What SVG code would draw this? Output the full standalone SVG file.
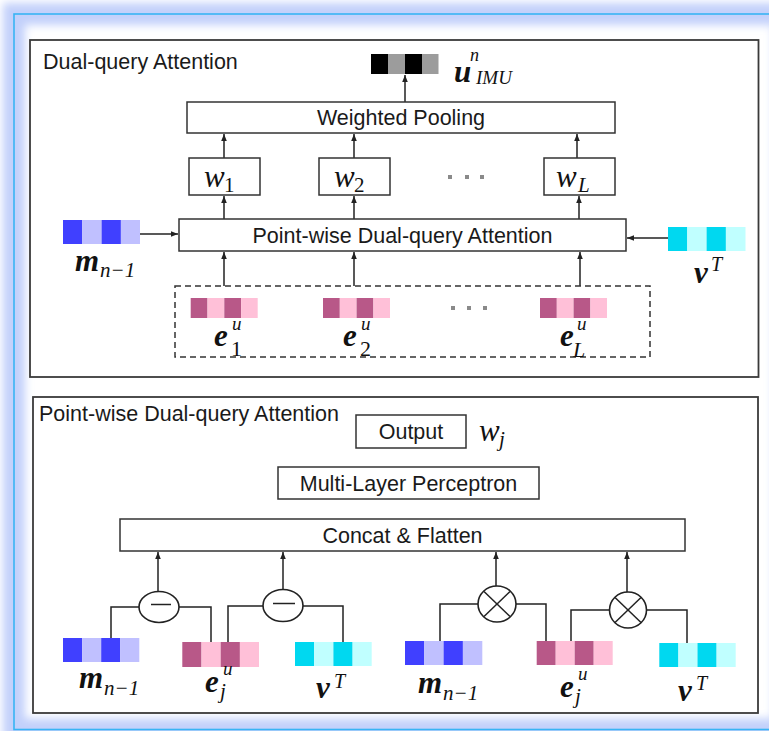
<svg xmlns="http://www.w3.org/2000/svg" width="769" height="731" viewBox="0 0 769 731">
<style>
.box{fill:#fff;stroke:#333;stroke-width:1.5}
.panel{fill:#fff;stroke:#3a3a3a;stroke-width:1.8}
.t{font-family:"Liberation Sans",Arial,sans-serif;font-size:21.5px;fill:#1a1a1a}
.tc{text-anchor:middle}
.mb{font-family:"Liberation Serif","Times New Roman",serif;font-weight:bold;font-style:italic;fill:#111}
.mi{font-family:"Liberation Serif","Times New Roman",serif;font-style:italic;fill:#111}
.mr{font-family:"Liberation Serif","Times New Roman",serif;fill:#111}
.cn{fill:none;stroke:#222;stroke-width:1.5}
.ar{fill:none;stroke:#222;stroke-width:1.5;marker-end:url(#ah)}
.op{fill:#fff;stroke:#222;stroke-width:1.6}
.dot{fill:#8a8a8a}
.mB{fill:#4040ff}.mL{fill:#c0c0ff}
.eD{fill:#b85888}.eL{fill:#ffc0d8}
.vD{fill:#00d8f0}.vL{fill:#c0ffff}
</style>
<defs>
<filter id="glow" x="-10%" y="-10%" width="120%" height="120%"><feGaussianBlur stdDeviation="4"/></filter>
<marker id="ah" viewBox="0 0 10 10" refX="10" refY="5" markerWidth="7" markerHeight="7" markerUnits="userSpaceOnUse" orient="auto"><path d="M0,1 L10,5 L0,9 z" fill="#222"/></marker>
</defs>
<rect x="0" y="0" width="769" height="731" fill="#fff"/>
<g id="frame">
<rect x="14" y="14" width="770" height="715.5" fill="none" stroke="#c2d0fb" stroke-width="22" filter="url(#glow)"/>
<rect x="14" y="14" width="770" height="715.5" fill="none" stroke="#38b4f4" stroke-width="1.6"/>
</g>

<g id="panel-top">
<rect class="panel" x="30" y="40" width="728.5" height="337"/>
<text class="t" x="43" y="69">Dual-query Attention</text>
</g>
<g id="panel-bottom">
<rect class="panel" x="33" y="397" width="725" height="316"/>
<text class="t" x="39" y="421">Point-wise Dual-query Attention</text>
</g>

<g id="connectors">
<line class="ar" x1="405" y1="102" x2="405" y2="75"/>
<line class="ar" x1="224" y1="158" x2="224" y2="134"/>
<line class="ar" x1="354" y1="158" x2="354" y2="134"/>
<line class="ar" x1="577" y1="158" x2="577" y2="134"/>
<line class="ar" x1="224" y1="219" x2="224" y2="196"/>
<line class="ar" x1="354" y1="219" x2="354" y2="196"/>
<line class="ar" x1="579" y1="219" x2="579" y2="196"/>
<line class="ar" x1="224" y1="286" x2="224" y2="252"/>
<line class="ar" x1="354" y1="286" x2="354" y2="252"/>
<line class="ar" x1="580" y1="286" x2="580" y2="252"/>
<line class="ar" x1="140" y1="234" x2="178" y2="234"/>
<line class="ar" x1="668" y1="238" x2="627" y2="238"/>
<line class="ar" x1="158" y1="591" x2="158" y2="552"/>
<line class="ar" x1="283" y1="589" x2="283" y2="552"/>
<line class="ar" x1="496" y1="586" x2="496" y2="552"/>
<line class="ar" x1="627" y1="592" x2="627" y2="552"/>
<polyline class="cn" points="139,607 111,607 111,638"/>
<polyline class="cn" points="179,607 211,607 211,642"/>
<polyline class="cn" points="263,606 228,606 228,642"/>
<polyline class="cn" points="303,606 343,606 343,642"/>
<polyline class="cn" points="478,604 440,604 440,641"/>
<polyline class="cn" points="516,604 546,604 546,641"/>
<polyline class="cn" points="609,610 571,610 571,641"/>
<polyline class="cn" points="646,610 687,610 687,643"/>
</g>

<g id="u-imu">
<rect x="371" y="54" width="17" height="20" fill="#000"/>
<rect x="388" y="54" width="17" height="20" fill="#9c9c9c"/>
<rect x="405" y="54" width="17" height="20" fill="#000"/>
<rect x="422" y="54" width="16.5" height="20" fill="#9c9c9c"/>
<text class="mb" x="454" y="82" font-size="31">u</text>
<text class="mi" x="470" y="61" font-size="18">n</text>
<text class="mi" x="476" y="84" font-size="19">IMU</text>
</g>

<g id="weighted-pooling">
<rect class="box" x="187" y="102" width="428" height="31"/>
<text class="t tc" x="401" y="125">Weighted Pooling</text>
</g>

<g id="w1">
<rect class="box" x="189" y="158" width="71" height="37"/>
<text class="mi" x="204" y="187" font-size="31">w</text>
<text class="mr" x="224" y="192" font-size="21">1</text>
</g>
<g id="w2">
<rect class="box" x="319" y="158" width="71" height="37"/>
<text class="mi" x="334" y="187" font-size="31">w</text>
<text class="mr" x="354" y="192" font-size="21">2</text>
</g>
<g id="dots-w">
<rect class="dot" x="448" y="175" width="4" height="4"/>
<rect class="dot" x="465" y="175" width="4" height="4"/>
<rect class="dot" x="480" y="175" width="4" height="4"/>
</g>
<g id="wL">
<rect class="box" x="544" y="158" width="71" height="37"/>
<text class="mi" x="556" y="187" font-size="31">w</text>
<text class="mi" x="578" y="192" font-size="21">L</text>
</g>

<g id="pointwise-attention">
<rect class="box" x="179" y="219" width="447" height="32"/>
<text class="t tc" x="402.5" y="243">Point-wise Dual-query Attention</text>
</g>

<g id="m-top">
<rect class="mB" x="63" y="220" width="19.3" height="24"/>
<rect class="mL" x="82.3" y="220" width="19.3" height="24"/>
<rect class="mB" x="101.6" y="220" width="19.3" height="24"/>
<rect class="mL" x="120.9" y="220" width="19.1" height="24"/>
<text class="mb" x="75" y="271" font-size="31">m</text>
<text class="mi" x="100" y="277" font-size="21">n−1</text>
</g>

<g id="v-top">
<rect class="vD" x="668" y="227" width="19.3" height="24"/>
<rect class="vL" x="687.3" y="227" width="19.3" height="24"/>
<rect class="vD" x="706.6" y="227" width="19.3" height="24"/>
<rect class="vL" x="725.9" y="227" width="19.6" height="24"/>
<text class="mb" x="694" y="283" font-size="31">v</text>
<text class="mi" x="711" y="271" font-size="20">T</text>
</g>

<g id="embeddings">
<rect x="175" y="286" width="475" height="71" fill="none" stroke="#333" stroke-width="1.5" stroke-dasharray="6 4"/>
<g id="e1">
<rect class="eD" x="190.7" y="298" width="16.8" height="20"/>
<rect class="eL" x="207.5" y="298" width="16.8" height="20"/>
<rect class="eD" x="224.3" y="298" width="16.8" height="20"/>
<rect class="eL" x="241.1" y="298" width="16.6" height="20"/>
<text class="mb" x="214" y="346" font-size="31">e</text>
<text class="mi" x="232" y="330" font-size="19">u</text>
<text class="mr" x="231" y="356" font-size="22">1</text>
</g>
<g id="e2">
<rect class="eD" x="323" y="298" width="16.8" height="20"/>
<rect class="eL" x="339.8" y="298" width="16.8" height="20"/>
<rect class="eD" x="356.6" y="298" width="16.8" height="20"/>
<rect class="eL" x="373.4" y="298" width="16.6" height="20"/>
<text class="mb" x="343" y="346" font-size="31">e</text>
<text class="mi" x="361" y="330" font-size="19">u</text>
<text class="mr" x="360" y="356" font-size="22">2</text>
</g>
<g id="dots-e">
<rect class="dot" x="451" y="306" width="4" height="4"/>
<rect class="dot" x="467" y="306" width="4" height="4"/>
<rect class="dot" x="483" y="306" width="4" height="4"/>
</g>
<g id="eL-vec">
<rect class="eD" x="540" y="298" width="16.8" height="20"/>
<rect class="eL" x="556.8" y="298" width="16.8" height="20"/>
<rect class="eD" x="573.6" y="298" width="16.8" height="20"/>
<rect class="eL" x="590.4" y="298" width="16.6" height="20"/>
<text class="mb" x="560" y="346" font-size="31">e</text>
<text class="mi" x="577" y="330" font-size="19">u</text>
<text class="mi" x="573" y="357" font-size="22">L</text>
</g>
</g>

<g id="output">
<rect class="box" x="356" y="415" width="110" height="33"/>
<text class="t tc" x="411" y="439">Output</text>
<text class="mi" x="479" y="441" font-size="31">w</text>
<text class="mi" x="499" y="446" font-size="21">j</text>
</g>
<g id="mlp">
<rect class="box" x="278" y="467" width="261" height="32"/>
<text class="t tc" x="408.5" y="491">Multi-Layer Perceptron</text>
</g>
<g id="concat">
<rect class="box" x="120" y="519" width="565" height="32"/>
<text class="t tc" x="402.5" y="543">Concat &amp; Flatten</text>
</g>

<g id="sub1">
<ellipse class="op" cx="159" cy="607" rx="20" ry="15.5"/>
<line class="cn" x1="151" y1="604.5" x2="171" y2="604.5"/>
</g>
<g id="sub2">
<ellipse class="op" cx="283" cy="605.5" rx="20" ry="16"/>
<line class="cn" x1="273" y1="603.5" x2="295" y2="603.5"/>
</g>
<g id="mul1">
<ellipse class="op" cx="497" cy="604" rx="19" ry="18"/>
<line class="cn" x1="484" y1="591.5" x2="510" y2="616.5"/>
<line class="cn" x1="510" y1="591.5" x2="484" y2="616.5"/>
</g>
<g id="mul2">
<ellipse class="op" cx="628" cy="610" rx="18.5" ry="18"/>
<line class="cn" x1="615" y1="597.5" x2="641" y2="622.5"/>
<line class="cn" x1="641" y1="597.5" x2="615" y2="622.5"/>
</g>

<g id="m-b1">
<rect class="mB" x="63" y="638" width="19.1" height="24"/>
<rect class="mL" x="82.1" y="638" width="19.1" height="24"/>
<rect class="mB" x="101.2" y="638" width="19.1" height="24"/>
<rect class="mL" x="120.3" y="638" width="19" height="24"/>
<text class="mb" x="79" y="688" font-size="31">m</text>
<text class="mi" x="104" y="695" font-size="21">n−1</text>
</g>
<g id="e-b1">
<rect class="eD" x="182.3" y="642" width="19.2" height="25"/>
<rect class="eL" x="201.5" y="642" width="19.2" height="25"/>
<rect class="eD" x="220.7" y="642" width="19.2" height="25"/>
<rect class="eL" x="239.9" y="642" width="19.1" height="25"/>
<text class="mb" x="205" y="692" font-size="31">e</text>
<text class="mi" x="223" y="675" font-size="19">u</text>
<text class="mi" x="220" y="698" font-size="21">j</text>
</g>
<g id="v-b1">
<rect class="vD" x="295" y="642" width="19.2" height="24"/>
<rect class="vL" x="314.2" y="642" width="19.2" height="24"/>
<rect class="vD" x="333.4" y="642" width="19.2" height="24"/>
<rect class="vL" x="352.6" y="642" width="19.1" height="24"/>
<text class="mb" x="316" y="698" font-size="31">v</text>
<text class="mi" x="334" y="688" font-size="20">T</text>
</g>
<g id="m-b2">
<rect class="mB" x="405" y="641" width="19.3" height="24"/>
<rect class="mL" x="424.3" y="641" width="19.3" height="24"/>
<rect class="mB" x="443.6" y="641" width="19.3" height="24"/>
<rect class="mL" x="462.9" y="641" width="19.4" height="24"/>
<text class="mb" x="418" y="693" font-size="31">m</text>
<text class="mi" x="443" y="700" font-size="21">n−1</text>
</g>
<g id="e-b2">
<rect class="eD" x="536.7" y="641" width="19" height="24"/>
<rect class="eL" x="555.7" y="641" width="19" height="24"/>
<rect class="eD" x="574.7" y="641" width="19" height="24"/>
<rect class="eL" x="593.7" y="641" width="19" height="24"/>
<text class="mb" x="560" y="697" font-size="31">e</text>
<text class="mi" x="578" y="680" font-size="19">u</text>
<text class="mi" x="575" y="703" font-size="21">j</text>
</g>
<g id="v-b2">
<rect class="vD" x="659.3" y="643" width="19.1" height="24"/>
<rect class="vL" x="678.4" y="643" width="19.1" height="24"/>
<rect class="vD" x="697.5" y="643" width="19.1" height="24"/>
<rect class="vL" x="716.6" y="643" width="19.1" height="24"/>
<text class="mb" x="678" y="701" font-size="31">v</text>
<text class="mi" x="696" y="690" font-size="20">T</text>
</g>
</svg>
